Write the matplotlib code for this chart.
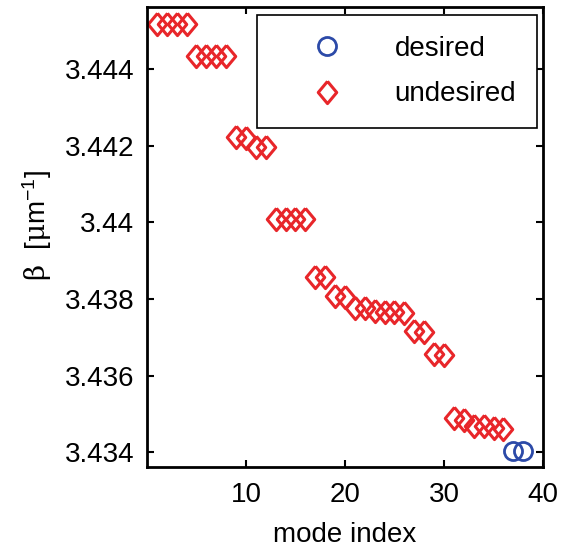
import numpy as np
import matplotlib
matplotlib.use("Agg")
import matplotlib.pyplot as plt

# mode indices and propagation constants
undesired_idx = list(range(1, 37))
undesired_beta = [3.44518, 3.44518, 3.44518, 3.44518,
                  3.44434, 3.44434, 3.44434, 3.44434,
                  3.44222, 3.44220, 3.44198, 3.44196,
                  3.44010, 3.44010, 3.44010, 3.44010,
                  3.43859, 3.43859, 3.43807, 3.43805,
                  3.43778, 3.43776, 3.43768, 3.43767,
                  3.43766, 3.43765, 3.43716, 3.43714,
                  3.43656, 3.43655, 3.43490, 3.43484,
                  3.43470, 3.43468, 3.43464, 3.43461]
desired_idx = [37, 38]
desired_beta = [3.43404, 3.43404]

red = '#e8262a'
blue = '#2c4aa8'
# matlab style diamond, a bit taller than wide
diamond = [(0, 1.2), (1, 0), (0, -1.2), (-1, 0), (0, 1.2)]

plt.rcParams['font.family'] = ['Liberation Sans', 'DejaVu Sans']
plt.rcParams['mathtext.fontset'] = 'custom'
plt.rcParams['mathtext.rm'] = 'DejaVu Serif'
plt.rcParams['mathtext.default'] = 'regular'

fig = plt.figure(figsize=(5.63, 5.5), dpi=100)
ax = fig.add_axes([0.261, 0.151, 0.7035, 0.836])

ax.plot(desired_idx, desired_beta, 'o', ls='none', mfc='none', mec=blue,
        ms=13, mew=2, label='desired')
ax.plot(undesired_idx, undesired_beta, marker=diamond, ls='none', mfc='none',
        mec=red, ms=16, mew=2.2, label='undesired')

ax.set_xlim(0, 40)
ax.set_ylim(3.43362, 3.44562)
ax.set_xticks([10, 20, 30, 40])
yt = [3.434, 3.436, 3.438, 3.44, 3.442, 3.444]
ax.set_yticks(yt)
ax.set_yticklabels(['3.434', '3.436', '3.438', '3.44', '3.442', '3.444'])

ax.tick_params(direction='in', length=5, width=1.5, labelsize=20,
               top=True, right=True)
ax.tick_params(axis='y', pad=9)
ax.tick_params(axis='x', pad=11)
for s in ax.spines.values():
    s.set_linewidth(2)

ax.set_xlabel('mode index', fontsize=20, labelpad=10)
ax.set_ylabel(r'$\mathrm{\beta}$  [$\mathrm{\mu}$m$^{-1}$]', fontsize=20)
ax.yaxis.set_label_coords(-0.235, 0.526)

leg = ax.legend(loc='upper right', bbox_to_anchor=(0.985, 0.983), fontsize=20,
                fancybox=False, framealpha=1, edgecolor='black',
                handletextpad=0.7, borderpad=0.75, labelspacing=0.7,
                handlelength=3.5, borderaxespad=0)
leg.get_frame().set_linewidth(1.2)

fig.savefig('out.png', dpi=100)
